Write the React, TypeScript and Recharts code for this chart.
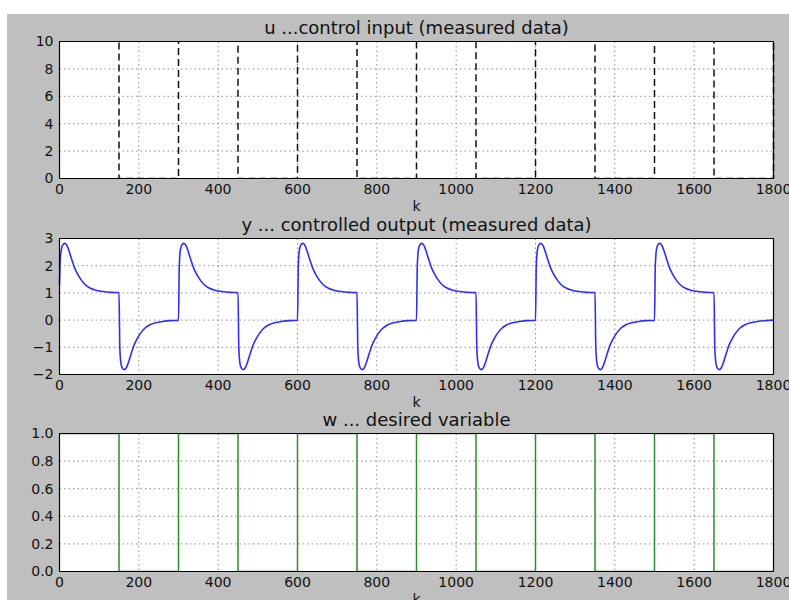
import { CartesianGrid, Line, LineChart, ReferenceLine, XAxis, YAxis } from "recharts";

const FONT = "'DejaVu Sans', sans-serif";

// tick labels
const kTicks = [0, 200, 400, 600, 800, 1000, 1200, 1400, 1600, 1800];
const uTicks = [0, 2, 4, 6, 8, 10];
const yTicks = [-2, -1, 0, 1, 2, 3];
const wTicks = [0, 0.2, 0.4, 0.6, 0.8, 1.0];

// u ... control input (goes off the top of the axes while w = 1)
const uK = [0, 150, 150, 300, 300, 450, 450, 600, 600, 750, 750, 900, 900, 1050, 1050, 1200, 1200, 1350, 1350, 1500, 1500, 1650, 1650, 1800, 1800];
const uVal = [12, 12, 0, 0, 12, 12, 0, 0, 12, 12, 0, 0, 12, 12, 0, 0, 12, 12, 0, 0, 12, 12, 0, 0, 12];

// y ... controlled output
const yK = [
  0, 2, 5, 9, 14, 19, 25, 31, 38, 46, 55, 65, 78, 92, 110, 130, 150,
  152, 155, 159, 164, 169, 175, 181, 188, 196, 205, 215, 228, 242, 260, 280, 300,
  302, 305, 309, 314, 319, 325, 331, 338, 346, 355, 365, 378, 392, 410, 430, 450,
  452, 455, 459, 464, 469, 475, 481, 488, 496, 505, 515, 528, 542, 560, 580, 600,
  602, 605, 609, 614, 619, 625, 631, 638, 646, 655, 665, 678, 692, 710, 730, 750,
  752, 755, 759, 764, 769, 775, 781, 788, 796, 805, 815, 828, 842, 860, 880, 900,
  902, 905, 909, 914, 919, 925, 931, 938, 946, 955, 965, 978, 992, 1010, 1030, 1050,
  1052, 1055, 1059, 1064, 1069, 1075, 1081, 1088, 1096, 1105, 1115, 1128, 1142, 1160, 1180, 1200,
  1202, 1205, 1209, 1214, 1219, 1225, 1231, 1238, 1246, 1255, 1265, 1278, 1292, 1310, 1330, 1350,
  1352, 1355, 1359, 1364, 1369, 1375, 1381, 1388, 1396, 1405, 1415, 1428, 1442, 1460, 1480, 1500,
  1502, 1505, 1509, 1514, 1519, 1525, 1531, 1538, 1546, 1555, 1565, 1578, 1592, 1610, 1630, 1650,
  1652, 1655, 1659, 1664, 1669, 1675, 1681, 1688, 1696, 1705, 1715, 1728, 1742, 1760, 1780, 1800,
];
const yVal = [
  1.3, 2.25, 2.62, 2.78, 2.82, 2.74, 2.5, 2.22, 1.92, 1.68, 1.47, 1.3, 1.17, 1.1, 1.05, 1.02, 1.01,
  -1.0, -1.6, -1.78, -1.82, -1.74, -1.5, -1.22, -0.92, -0.68, -0.47, -0.3, -0.17, -0.1, -0.05, -0.02, -0.01,
  2.0, 2.6, 2.78, 2.82, 2.74, 2.5, 2.22, 1.92, 1.68, 1.47, 1.3, 1.17, 1.1, 1.05, 1.02, 1.01,
  -1.0, -1.6, -1.78, -1.82, -1.74, -1.5, -1.22, -0.92, -0.68, -0.47, -0.3, -0.17, -0.1, -0.05, -0.02, -0.01,
  2.0, 2.6, 2.78, 2.82, 2.74, 2.5, 2.22, 1.92, 1.68, 1.47, 1.3, 1.17, 1.1, 1.05, 1.02, 1.01,
  -1.0, -1.6, -1.78, -1.82, -1.74, -1.5, -1.22, -0.92, -0.68, -0.47, -0.3, -0.17, -0.1, -0.05, -0.02, -0.01,
  2.0, 2.6, 2.78, 2.82, 2.74, 2.5, 2.22, 1.92, 1.68, 1.47, 1.3, 1.17, 1.1, 1.05, 1.02, 1.01,
  -1.0, -1.6, -1.78, -1.82, -1.74, -1.5, -1.22, -0.92, -0.68, -0.47, -0.3, -0.17, -0.1, -0.05, -0.02, -0.01,
  2.0, 2.6, 2.78, 2.82, 2.74, 2.5, 2.22, 1.92, 1.68, 1.47, 1.3, 1.17, 1.1, 1.05, 1.02, 1.01,
  -1.0, -1.6, -1.78, -1.82, -1.74, -1.5, -1.22, -0.92, -0.68, -0.47, -0.3, -0.17, -0.1, -0.05, -0.02, -0.01,
  2.0, 2.6, 2.78, 2.82, 2.74, 2.5, 2.22, 1.92, 1.68, 1.47, 1.3, 1.17, 1.1, 1.05, 1.02, 1.01,
  -1.0, -1.6, -1.78, -1.82, -1.74, -1.5, -1.22, -0.92, -0.68, -0.47, -0.3, -0.17, -0.1, -0.05, -0.02, 0,
];

// w ... desired variable (square wave)
const wK = [0, 150, 150, 300, 300, 450, 450, 600, 600, 750, 750, 900, 900, 1050, 1050, 1200, 1200, 1350, 1350, 1500, 1500, 1650, 1650, 1800];
const wVal = [1, 1, 0, 0, 1, 1, 0, 0, 1, 1, 0, 0, 1, 1, 0, 0, 1, 1, 0, 0, 1, 1, 0, 0];

const toRows = (ks: number[], vs: number[]) => ks.map((k, i) => ({ k, v: vs[i] }));

const W = 789;
const PLOT_LEFT = 59.5;
const PLOT_RIGHT = 773.5;

function minusTick(v: number) {
  return String(v).replace("-", "\u2212");
}

function Panel({
  title,
  top,
  height,
  data,
  color,
  dash,
  width,
  ticks,
  fmt,
  lineType,
}: {
  title: string;
  top: number;
  height: number;
  data: { k: number; v: number }[];
  color: string;
  dash?: string;
  width: number;
  ticks: number[];
  fmt: (v: number) => string;
  lineType: "linear" | "monotone";
}) {
  const boxTop = Math.floor(top) - 40;
  const frac = top - Math.floor(top);
  const domain: [number, number] = [ticks[0], ticks[ticks.length - 1]];
  const bottom = top + height;
  const tickStyle = { fill: "#111", fontSize: 14, fontFamily: FONT };
  return (
    <>
      <div
        style={{
          position: "absolute",
          left: PLOT_LEFT,
          width: PLOT_RIGHT - PLOT_LEFT,
          top: top - 7 - 17.2,
          lineHeight: "22px",
          fontSize: 18,
          fontFamily: FONT,
          color: "#111",
          textAlign: "center",
          whiteSpace: "nowrap",
        }}
      >
        {title}
      </div>
      <div style={{ position: "absolute", left: 0, top: boxTop }}>
        <LineChart
          width={W}
          height={height + 80 + frac}
          data={data}
          margin={{ top: 40 + frac, right: W - PLOT_RIGHT, bottom: 0, left: 0 }}
        >
          <CartesianGrid fill="#ffffff" stroke="#777" strokeDasharray="1.5 3" strokeWidth={0.8} />
          <XAxis
            type="number"
            dataKey="k"
            domain={[0, 1800]}
            ticks={kTicks}
            interval={0}
            height={40}
            tickLine={false}
            tickSize={4}
            tickMargin={2}
            axisLine={{ stroke: "#000", strokeWidth: 1.2 }}
            tick={tickStyle}
          />
          <YAxis
            type="number"
            domain={domain}
            ticks={ticks}
            interval={0}
            allowDataOverflow
            width={PLOT_LEFT}
            tickLine={false}
            tickSize={4}
            tickMargin={2}
            tickFormatter={fmt}
            axisLine={{ stroke: "#000", strokeWidth: 1.2 }}
            tick={tickStyle}
          />
          <Line
            type={lineType}
            dataKey="v"
            stroke={color}
            strokeWidth={width}
            strokeDasharray={dash}
            dot={false}
            activeDot={false}
            isAnimationActive={false}
          />
          <ReferenceLine y={domain[1]} stroke="#000" strokeWidth={1.2} />
          <ReferenceLine x={1800} stroke="#000" strokeWidth={1.2} />
        </LineChart>
      </div>
      <div
        style={{
          position: "absolute",
          left: PLOT_LEFT,
          width: PLOT_RIGHT - PLOT_LEFT,
          top: bottom + 32.5 - 13.4,
          lineHeight: "17px",
          fontSize: 14,
          fontFamily: FONT,
          color: "#111",
          textAlign: "center",
        }}
      >
        k
      </div>
    </>
  );
}

export default function App() {
  return (
    <div style={{ position: "absolute", left: 0, top: 0, width: W, height: 600, background: "#fff", overflow: "hidden" }}>
      <div style={{ position: "absolute", left: 7, top: 14, right: 0, bottom: 0, background: "#bfbfbf" }} />
      <Panel
        title="u ...control input (measured data)"
        top={41.5}
        height={137}
        data={toRows(uK, uVal)}
        color="#111"
        dash="7 4"
        width={1.5}
        ticks={uTicks}
        fmt={minusTick}
        lineType="linear"
      />
      <Panel
        title="y ... controlled output (measured data)"
        top={238.5}
        height={136}
        data={toRows(yK, yVal)}
        color="#2f2ff0"
        width={1.6}
        ticks={yTicks}
        fmt={minusTick}
        lineType="monotone"
      />
      <Panel
        title="w ... desired variable"
        top={433.5}
        height={138}
        data={toRows(wK, wVal)}
        color="#2e8b2e"
        width={1.5}
        ticks={wTicks}
        fmt={(v) => v.toFixed(1)}
        lineType="linear"
      />
    </div>
  );
}
